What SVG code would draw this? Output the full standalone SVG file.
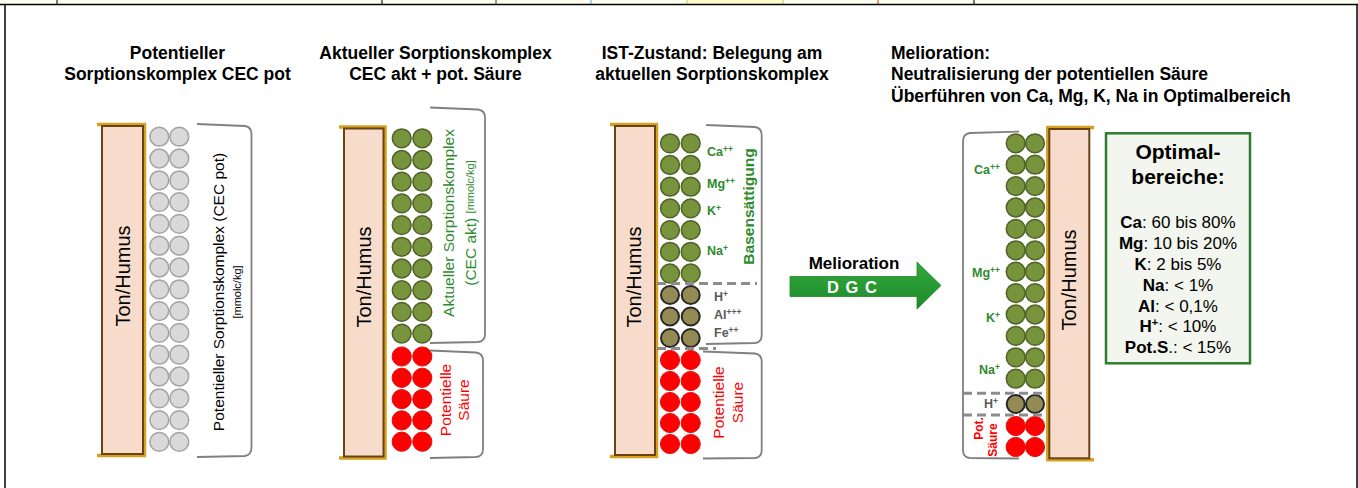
<svg xmlns="http://www.w3.org/2000/svg" width="1358" height="488" viewBox="0 0 1358 488">
<defs>
<style>
text{font-family:"Liberation Sans",Arial,sans-serif}
.title{font-size:17.5px;font-weight:bold;fill:#000}
.th{font-size:20px;fill:#000;text-anchor:middle;dominant-baseline:central}
.rt{text-anchor:middle;dominant-baseline:central}
.gc{fill:#d9d9d9;stroke:#a3a3a3;stroke-width:1.5}
.gr{fill:#77933c;stroke:#4f6228;stroke-width:1.5}
.rd{fill:#ff0000;stroke:#e01010;stroke-width:1}
.br{fill:#948a54;stroke:#262626;stroke-width:2}
.brk{fill:none;stroke:#808080;stroke-width:1.8}
.dash{stroke:#8c8c8c;stroke-width:3;stroke-dasharray:9 5;fill:none}
.gold{fill:none;stroke:#d4a21c;stroke-width:3.5}
.bar{fill:#f8dccb;stroke:#6b4213;stroke-width:2}
.lbl{font-size:12.5px;font-weight:bold;fill:#2e8b2e}
.lbd{font-size:12.5px;font-weight:bold;fill:#595959}
.sup{font-size:8.5px}
.grn{fill:#2e8b2e}
.red{fill:#ff0000}
</style>
<linearGradient id="ag" x1="0" y1="0" x2="0" y2="1">
<stop offset="0" stop-color="#34a83c"/>
<stop offset="1" stop-color="#1d8a2a"/>
</linearGradient>
</defs>
<rect width="1358" height="488" fill="#ffffff"/>
<g id="frame">
<rect x="0" y="0" width="1358" height="4.5" fill="#fdfdee"/>
<rect x="687" y="0" width="96" height="4.5" fill="#fdfcc8"/>
<g stroke-width="1">
<line x1="57" y1="0" x2="57" y2="4.5" stroke="#000"/>
<line x1="382" y1="0" x2="382" y2="4.5" stroke="#777" stroke-width="2"/>
<line x1="496" y1="0" x2="496" y2="4.5" stroke="#333"/>
<line x1="591" y1="0" x2="591" y2="4.5" stroke="#6fa8c8"/>
<line x1="687" y1="0" x2="687" y2="4.5" stroke="#b8c870"/>
<line x1="783" y1="0" x2="783" y2="4.5" stroke="#b8c870"/>
<line x1="878" y1="0" x2="878" y2="4.5" stroke="#c83010"/>
<line x1="974" y1="0" x2="974" y2="4.5" stroke="#777" stroke-width="2"/>
</g>
<line x1="0" y1="4.5" x2="1358" y2="4.5" stroke="#000" stroke-width="1.5"/>
<line x1="5" y1="4.5" x2="5" y2="488" stroke="#000" stroke-width="1.5"/>
<line x1="1357" y1="4.5" x2="1357" y2="488" stroke="#000" stroke-width="1.5"/>
</g>
<g id="titles">
<text class="title" x="177.5" y="58.5" text-anchor="middle">Potentieller</text>
<text class="title" x="177.5" y="80" text-anchor="middle">Sorptionskomplex CEC pot</text>
<text class="title" x="435.5" y="58.5" text-anchor="middle">Aktueller Sorptionskomplex</text>
<text class="title" x="435.5" y="80" text-anchor="middle">CEC akt + pot. Säure</text>
<text class="title" x="712" y="58.5" text-anchor="middle">IST-Zustand: Belegung am</text>
<text class="title" x="712" y="80" text-anchor="middle">aktuellen Sorptionskomplex</text>
<text class="title" x="891" y="58.5">Melioration:</text>
<text class="title" x="891" y="80">Neutralisierung der potentiellen Säure</text>
<text class="title" x="891" y="101.5">Überführen von Ca, Mg, K, Na in Optimalbereich</text>
</g>
<g id="panel1">
<path class="gold" d="M97,124.5 H144.5 V455.5 H97"/>
<rect class="bar" x="102" y="126" width="41" height="328"/>
<text class="th" transform="translate(122.5,276) rotate(-90)">Ton/Humus</text>
<g id="p1circles">
<circle class="gc" cx="159.3" cy="136.7" r="9.4"/><circle class="gc" cx="179.3" cy="136.7" r="9.4"/>
<circle class="gc" cx="159.3" cy="158.5" r="9.4"/><circle class="gc" cx="179.3" cy="158.5" r="9.4"/>
<circle class="gc" cx="159.3" cy="180.3" r="9.4"/><circle class="gc" cx="179.3" cy="180.3" r="9.4"/>
<circle class="gc" cx="159.3" cy="202.1" r="9.4"/><circle class="gc" cx="179.3" cy="202.1" r="9.4"/>
<circle class="gc" cx="159.3" cy="223.9" r="9.4"/><circle class="gc" cx="179.3" cy="223.9" r="9.4"/>
<circle class="gc" cx="159.3" cy="245.7" r="9.4"/><circle class="gc" cx="179.3" cy="245.7" r="9.4"/>
<circle class="gc" cx="159.3" cy="267.5" r="9.4"/><circle class="gc" cx="179.3" cy="267.5" r="9.4"/>
<circle class="gc" cx="159.3" cy="289.3" r="9.4"/><circle class="gc" cx="179.3" cy="289.3" r="9.4"/>
<circle class="gc" cx="159.3" cy="311.1" r="9.4"/><circle class="gc" cx="179.3" cy="311.1" r="9.4"/>
<circle class="gc" cx="159.3" cy="332.9" r="9.4"/><circle class="gc" cx="179.3" cy="332.9" r="9.4"/>
<circle class="gc" cx="159.3" cy="354.7" r="9.4"/><circle class="gc" cx="179.3" cy="354.7" r="9.4"/>
<circle class="gc" cx="159.3" cy="376.5" r="9.4"/><circle class="gc" cx="179.3" cy="376.5" r="9.4"/>
<circle class="gc" cx="159.3" cy="398.3" r="9.4"/><circle class="gc" cx="179.3" cy="398.3" r="9.4"/>
<circle class="gc" cx="159.3" cy="420.1" r="9.4"/><circle class="gc" cx="179.3" cy="420.1" r="9.4"/>
<circle class="gc" cx="159.3" cy="441.9" r="9.4"/><circle class="gc" cx="179.3" cy="441.9" r="9.4"/>
</g>
<path class="brk" d="M197,124 L245,126 Q251.5,127 251.5,134 L251.5,447 Q251.5,455 245,456 L197,457"/>
<text class="rt" font-size="15.5" transform="translate(218.5,292) rotate(-90)">Potentieller Sorptionskomplex (CEC pot)</text>
<text class="rt" font-size="11" transform="translate(236.5,292) rotate(-90)">[mmolc/kg]</text>
</g>
<g id="panel2">
<path class="gold" d="M339,127 H385 V458 H339"/>
<rect class="bar" x="344" y="128.5" width="39.5" height="328"/>
<text class="th" transform="translate(363.5,277) rotate(-90)">Ton/Humus</text>
<g id="p2circles">
<circle class="gr" cx="401.7" cy="138.3" r="9.4"/><circle class="gr" cx="422.3" cy="138.3" r="9.4"/>
<circle class="gr" cx="401.7" cy="160" r="9.4"/><circle class="gr" cx="422.3" cy="160" r="9.4"/>
<circle class="gr" cx="401.7" cy="181.7" r="9.4"/><circle class="gr" cx="422.3" cy="181.7" r="9.4"/>
<circle class="gr" cx="401.7" cy="203.4" r="9.4"/><circle class="gr" cx="422.3" cy="203.4" r="9.4"/>
<circle class="gr" cx="401.7" cy="225.1" r="9.4"/><circle class="gr" cx="422.3" cy="225.1" r="9.4"/>
<circle class="gr" cx="401.7" cy="246.8" r="9.4"/><circle class="gr" cx="422.3" cy="246.8" r="9.4"/>
<circle class="gr" cx="401.7" cy="268.5" r="9.4"/><circle class="gr" cx="422.3" cy="268.5" r="9.4"/>
<circle class="gr" cx="401.7" cy="290.2" r="9.4"/><circle class="gr" cx="422.3" cy="290.2" r="9.4"/>
<circle class="gr" cx="401.7" cy="311.9" r="9.4"/><circle class="gr" cx="422.3" cy="311.9" r="9.4"/>
<circle class="gr" cx="401.7" cy="333.6" r="9.4"/><circle class="gr" cx="422.3" cy="333.6" r="9.4"/>
<circle class="rd" cx="401.7" cy="356.5" r="9.6"/><circle class="rd" cx="422.3" cy="356.5" r="9.6"/>
<circle class="rd" cx="401.7" cy="377.8" r="9.6"/><circle class="rd" cx="422.3" cy="377.8" r="9.6"/>
<circle class="rd" cx="401.7" cy="399.1" r="9.6"/><circle class="rd" cx="422.3" cy="399.1" r="9.6"/>
<circle class="rd" cx="401.7" cy="420.4" r="9.6"/><circle class="rd" cx="422.3" cy="420.4" r="9.6"/>
<circle class="rd" cx="401.7" cy="441.7" r="9.6"/><circle class="rd" cx="422.3" cy="441.7" r="9.6"/>
</g>
<path class="brk" d="M430,107.5 L478,109.5 Q485,110.5 485,117.5 L485,334 Q485,341.5 478,342 L430,343"/>
<path class="brk" d="M430,350.5 L476,352.5 Q483,353.5 483,360.5 L483,449 Q483,456.5 476,457 L430,458"/>
<text class="rt grn" font-size="15.5" transform="translate(448.5,223) rotate(-90)">Aktueller Sorptionskomplex</text>
<text class="rt grn" font-size="15.5" transform="translate(470,223) rotate(-90)">(CEC akt) <tspan font-size="11">[mmolc/kg]</tspan></text>
<text class="rt red" font-size="15.5" transform="translate(445,400) rotate(-90)">Potentielle</text>
<text class="rt red" font-size="15.5" transform="translate(463.5,400) rotate(-90)">Säure</text>
</g>
<g id="panel3">
<path class="gold" d="M610,124.5 H656.5 V456.5 H610"/>
<rect class="bar" x="615" y="126" width="40" height="329"/>
<text class="th" transform="translate(634,277) rotate(-90)">Ton/Humus</text>
<g id="p3circles">
<circle class="gr" cx="670" cy="143.3" r="9.4"/><circle class="gr" cx="690.7" cy="143.3" r="9.4"/>
<circle class="gr" cx="670" cy="165" r="9.4"/><circle class="gr" cx="690.7" cy="165" r="9.4"/>
<circle class="gr" cx="670" cy="186.7" r="9.4"/><circle class="gr" cx="690.7" cy="186.7" r="9.4"/>
<circle class="gr" cx="670" cy="208.4" r="9.4"/><circle class="gr" cx="690.7" cy="208.4" r="9.4"/>
<circle class="gr" cx="670" cy="230.1" r="9.4"/><circle class="gr" cx="690.7" cy="230.1" r="9.4"/>
<circle class="gr" cx="670" cy="251.8" r="9.4"/><circle class="gr" cx="690.7" cy="251.8" r="9.4"/>
<circle class="gr" cx="670" cy="273.5" r="9.4"/><circle class="gr" cx="690.7" cy="273.5" r="9.4"/>
<circle class="br" cx="670" cy="295" r="9"/><circle class="br" cx="690.7" cy="295" r="9"/>
<circle class="br" cx="670" cy="316.5" r="9"/><circle class="br" cx="690.7" cy="316.5" r="9"/>
<circle class="br" cx="670" cy="338" r="9"/><circle class="br" cx="690.7" cy="338" r="9"/>
<circle class="rd" cx="670" cy="360" r="9.6"/><circle class="rd" cx="690.7" cy="360" r="9.6"/>
<circle class="rd" cx="670" cy="381" r="9.6"/><circle class="rd" cx="690.7" cy="381" r="9.6"/>
<circle class="rd" cx="670" cy="402" r="9.6"/><circle class="rd" cx="690.7" cy="402" r="9.6"/>
<circle class="rd" cx="670" cy="423" r="9.6"/><circle class="rd" cx="690.7" cy="423" r="9.6"/>
<circle class="rd" cx="670" cy="444" r="9.6"/><circle class="rd" cx="690.7" cy="444" r="9.6"/>
</g>
<path class="dash" d="M657,283.5 H757"/>
<path class="dash" d="M657,348.5 H716"/>
<path class="brk" d="M706,125 L755,127 Q761.7,128 761.7,135 L761.7,335 Q761.7,342.5 755,343 L706,344"/>
<path class="brk" d="M703,351.5 L755,353.5 Q761.7,354.5 761.7,361.5 L761.7,450 Q761.7,457.5 755,458 L703,458.5"/>
<text class="lbl" x="707" y="155.5">Ca<tspan class="sup" dy="-4">++</tspan></text>
<text class="lbl" x="707" y="187.5">Mg<tspan class="sup" dy="-4">++</tspan></text>
<text class="lbl" x="707" y="214.5">K<tspan class="sup" dy="-4">+</tspan></text>
<text class="lbl" x="707" y="254.5">Na<tspan class="sup" dy="-4">+</tspan></text>
<text class="rt grn" font-size="15.5" font-weight="bold" transform="translate(748,206.5) rotate(-90)">Basensättigung</text>
<text class="lbd" x="714" y="300.5">H<tspan class="sup" dy="-4">+</tspan></text>
<text class="lbd" x="714" y="318.5">Al<tspan class="sup" dy="-4">+++</tspan></text>
<text class="lbd" x="714" y="336.5">Fe<tspan class="sup" dy="-4">++</tspan></text>
<text class="rt red" font-size="15.5" transform="translate(718.5,402.5) rotate(-90)">Potentielle</text>
<text class="rt red" font-size="15.5" transform="translate(737,402.5) rotate(-90)">Säure</text>
</g>
<g id="connectors">
<path d="M790,276.5 H917 V262 L941,285.5 L917,309 V296.5 H790 Z" fill="url(#ag)" stroke="#1d8a2a" stroke-width="0.8"/>
<text x="854" y="268.5" text-anchor="middle" font-size="17" font-weight="bold" fill="#000">Melioration</text>
<text x="852.5" y="293" text-anchor="middle" font-size="16.5" font-weight="bold" fill="#ffffff" letter-spacing="1">D G C</text>
</g>
<g id="panel4">
<path class="gold" d="M1094,127.5 H1047.8 V459.8 H1094"/>
<rect class="bar" x="1049.3" y="129" width="40" height="329.3"/>
<text class="th" transform="translate(1069,280) rotate(-90)">Ton/Humus</text>
<g id="p4circles">
<circle class="gr" cx="1015.7" cy="143.3" r="9.4"/><circle class="gr" cx="1035" cy="143.3" r="9.4"/>
<circle class="gr" cx="1015.7" cy="164.7" r="9.4"/><circle class="gr" cx="1035" cy="164.7" r="9.4"/>
<circle class="gr" cx="1015.7" cy="186.1" r="9.4"/><circle class="gr" cx="1035" cy="186.1" r="9.4"/>
<circle class="gr" cx="1015.7" cy="207.5" r="9.4"/><circle class="gr" cx="1035" cy="207.5" r="9.4"/>
<circle class="gr" cx="1015.7" cy="228.9" r="9.4"/><circle class="gr" cx="1035" cy="228.9" r="9.4"/>
<circle class="gr" cx="1015.7" cy="250.3" r="9.4"/><circle class="gr" cx="1035" cy="250.3" r="9.4"/>
<circle class="gr" cx="1015.7" cy="271.7" r="9.4"/><circle class="gr" cx="1035" cy="271.7" r="9.4"/>
<circle class="gr" cx="1015.7" cy="293.1" r="9.4"/><circle class="gr" cx="1035" cy="293.1" r="9.4"/>
<circle class="gr" cx="1015.7" cy="314.5" r="9.4"/><circle class="gr" cx="1035" cy="314.5" r="9.4"/>
<circle class="gr" cx="1015.7" cy="335.9" r="9.4"/><circle class="gr" cx="1035" cy="335.9" r="9.4"/>
<circle class="gr" cx="1015.7" cy="357.3" r="9.4"/><circle class="gr" cx="1035" cy="357.3" r="9.4"/>
<circle class="gr" cx="1015.7" cy="378.7" r="9.4"/><circle class="gr" cx="1035" cy="378.7" r="9.4"/>
<circle class="br" cx="1015.7" cy="404" r="9"/><circle class="br" cx="1035" cy="404" r="9"/>
<circle class="rd" cx="1015.7" cy="426" r="9.6"/><circle class="rd" cx="1035" cy="426" r="9.6"/>
<circle class="rd" cx="1015.7" cy="447" r="9.6"/><circle class="rd" cx="1035" cy="447" r="9.6"/>
</g>
<path class="dash" d="M963,393.3 H1046"/>
<path class="dash" d="M963,415 H1046"/>
<path class="brk" d="M1019,131.5 L970,133 Q963,134 963,141 L963,450 Q963,457.5 970,458 L1019,458.5"/>
<text class="lbl" x="1000" y="174" text-anchor="end">Ca<tspan class="sup" dy="-4">++</tspan></text>
<text class="lbl" x="1000" y="277" text-anchor="end">Mg<tspan class="sup" dy="-4">++</tspan></text>
<text class="lbl" x="1000" y="322" text-anchor="end">K<tspan class="sup" dy="-4">+</tspan></text>
<text class="lbl" x="1000" y="373.5" text-anchor="end">Na<tspan class="sup" dy="-4">+</tspan></text>
<text class="lbd" x="998" y="408" text-anchor="end">H<tspan class="sup" dy="-4">+</tspan></text>
<text class="rt red" font-size="12" font-weight="bold" transform="translate(979,428.5) rotate(-90)">Pot.</text>
<text class="rt red" font-size="12" font-weight="bold" transform="translate(993,440) rotate(-90)">Säure</text>
</g>
<g id="optimal">
<rect x="1106" y="133.3" width="144" height="230" fill="#f3f6ee" stroke="#2e7d2e" stroke-width="2.5"/>
<g text-anchor="middle" fill="#000">
<text x="1178" y="159.3" font-size="21" font-weight="bold">Optimal-</text>
<text x="1178" y="184" font-size="21" font-weight="bold">bereiche:</text>
<g font-size="17">
<text x="1178" y="228"><tspan font-weight="bold">Ca</tspan>: 60 bis 80%</text>
<text x="1178" y="249"><tspan font-weight="bold">Mg</tspan>: 10 bis 20%</text>
<text x="1178" y="270"><tspan font-weight="bold">K</tspan>: 2 bis 5%</text>
<text x="1178" y="290.5"><tspan font-weight="bold">Na</tspan>: &lt; 1%</text>
<text x="1178" y="311.5"><tspan font-weight="bold">Al</tspan>: &lt; 0,1%</text>
<text x="1178" y="332"><tspan font-weight="bold">H<tspan font-size="11" dy="-6">+</tspan></tspan><tspan dy="6">: &lt; 10%</tspan></text>
<text x="1178" y="353"><tspan font-weight="bold">Pot.S</tspan>.: &lt; 15%</text>
</g>
</g>
</g>
</svg>
